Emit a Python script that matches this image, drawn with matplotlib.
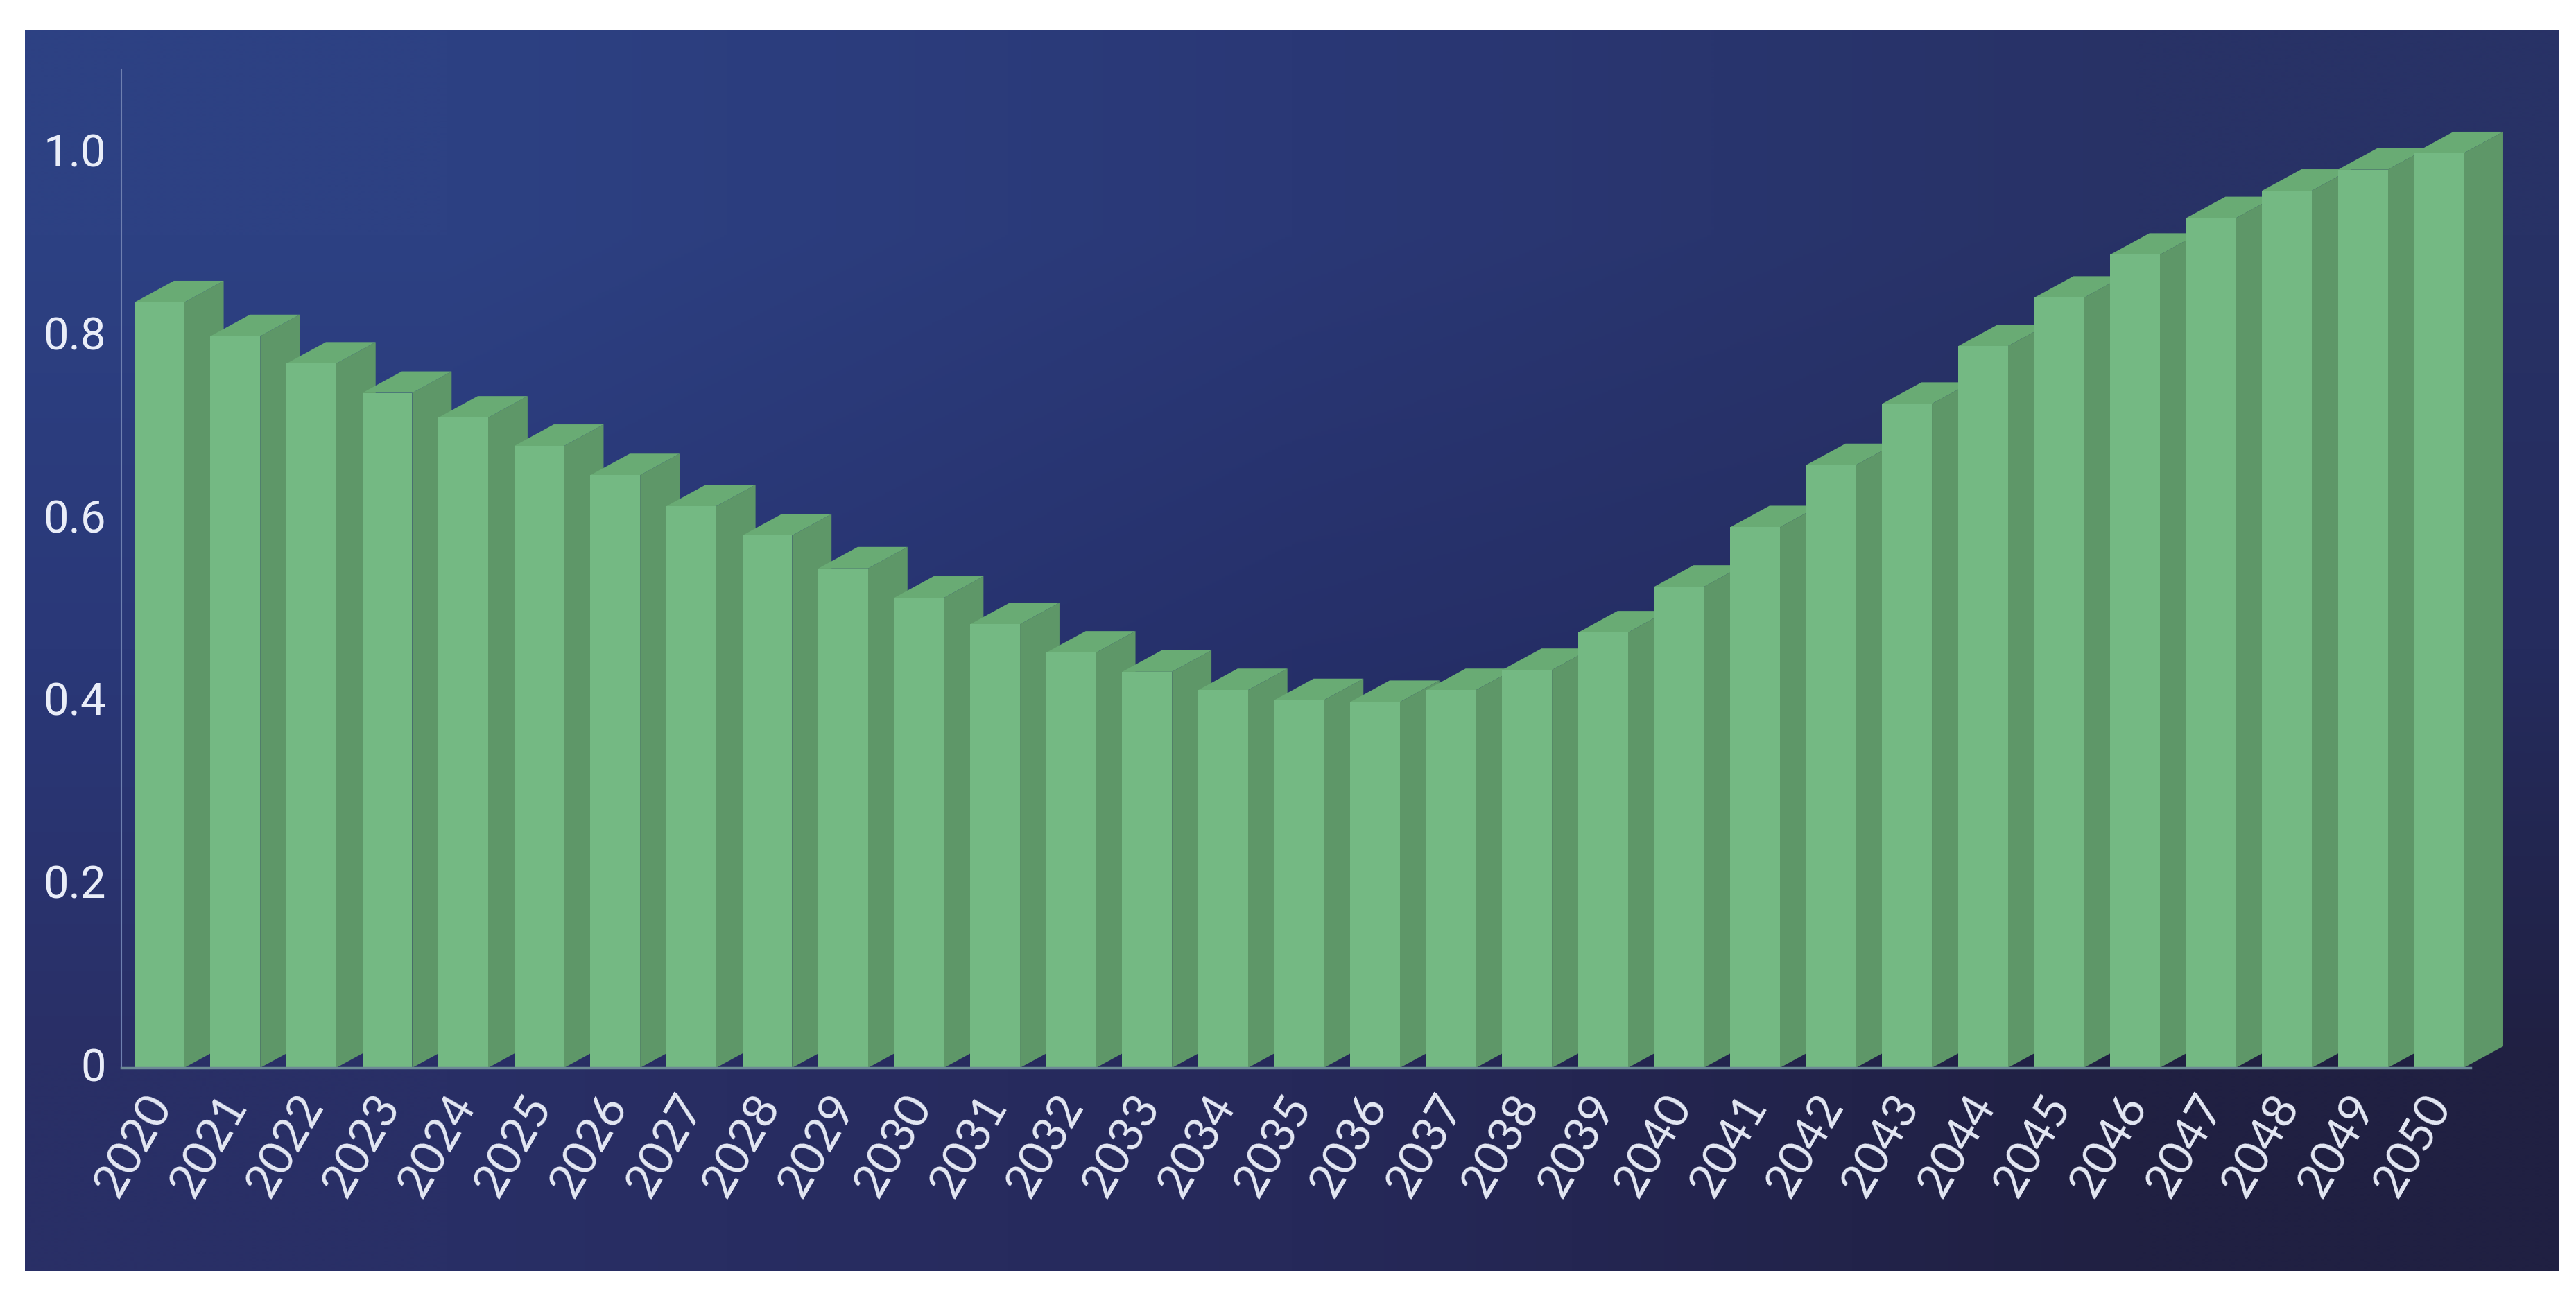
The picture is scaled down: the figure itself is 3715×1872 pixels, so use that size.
import numpy as np
import matplotlib
matplotlib.use("Agg")
import matplotlib.pyplot as plt
from matplotlib.transforms import ScaledTranslation

years = list(range(2020, 2051))
values = [0.837, 0.800, 0.770, 0.738, 0.711, 0.680, 0.648, 0.614, 0.582, 0.546,
          0.514, 0.485, 0.454, 0.433, 0.413, 0.402, 0.400, 0.413, 0.435, 0.476,
          0.526, 0.591, 0.659, 0.726, 0.789, 0.842, 0.889, 0.929, 0.959, 0.982, 1.000]
y_ticks = [0, 0.2, 0.4, 0.6, 0.8, 1.0]
y_labels = ["0", "0.2", "0.4", "0.6", "0.8", "1.0"]

W, H = 3715, 1872
plt.rcParams['font.family'] = ['Roboto', 'DejaVu Sans']

# pixel boxes -> figure fractions
def box(x0, y0, x1, y1):
    return [x0 / W, 1 - y1 / H, (x1 - x0) / W, (y1 - y0) / H]

fig = plt.figure(figsize=(W / 100, H / 100), dpi=100, facecolor="white")

# background gradient
bg = fig.add_axes(box(36, 43, 3690, 1833))
colors = np.array([[[45, 65, 131], [42, 56, 118], [40, 50, 102]],
                   [[42, 56, 120], [38, 48, 106], [37, 44, 94]],
                   [[41, 47, 102], [38, 41, 90], [32, 32, 66]]]) / 255
bg.imshow(colors, aspect="auto", interpolation="bilinear", extent=(0, 1, 0, 1))
bg.set_xticks([])
bg.set_yticks([])
for s in bg.spines.values():
    s.set_visible(False)

ax = fig.add_axes(box(175, 100, 3572, 1540))
ax.patch.set_alpha(0)
ax.set_xlim(-0.5, 30.5)
ax.set_ylim(0, 1.0917)

front = "#74b983"
side = "#5e9768"
top = "#69ab74"
bar_w = 0.655
dx = 0.519
dy = 0.0235

x = np.arange(len(years))
for i, v in enumerate(values):
    x0 = x[i] - bar_w / 2
    x1 = x[i] + bar_w / 2
    ax.fill([x1, x1 + dx, x1 + dx, x1], [0, dy, v + dy, v], color=side, lw=0, zorder=2 + i, clip_on=False)
    ax.fill([x0, x0 + dx, x1 + dx, x1], [v, v + dy, v + dy, v], color=top, lw=0, zorder=2 + i, clip_on=False)
    ax.bar(x[i], v, width=bar_w, color=front, lw=0, zorder=2 + i)

for s in ["top", "right"]:
    ax.spines[s].set_visible(False)
ax.spines["left"].set_color("#6f80b0")
ax.spines["left"].set_linewidth(1.5)
ax.spines["bottom"].set_color("#6d8a96")
ax.spines["bottom"].set_linewidth(2.5)
ax.spines["bottom"].set_zorder(50)
ax.spines["bottom"].set_bounds(-0.5, 30.42)

ax.set_yticks(y_ticks)
ax.set_yticklabels(y_labels)
ax.tick_params(axis="y", length=0, pad=16, labelsize=47, labelcolor="#e9edf8")
ax.set_xticks(x)
ax.set_xticklabels(years, rotation=60, ha="right", rotation_mode="anchor")
ax.tick_params(axis="x", length=0, pad=20, labelsize=49, labelcolor="#e4e8f4")

# labels sit a bit off the ticks in the original
up = ScaledTranslation(0, 5 / 100, fig.dpi_scale_trans)
for t in ax.get_yticklabels():
    t.set_transform(t.get_transform() + up)
left = ScaledTranslation(-24 / 100, 0, fig.dpi_scale_trans)
for t in ax.get_xticklabels():
    t.set_fontfamily(["Lato", "DejaVu Sans"])
    t.set_transform(t.get_transform() + left)

fig.savefig("out.png", dpi=100)
